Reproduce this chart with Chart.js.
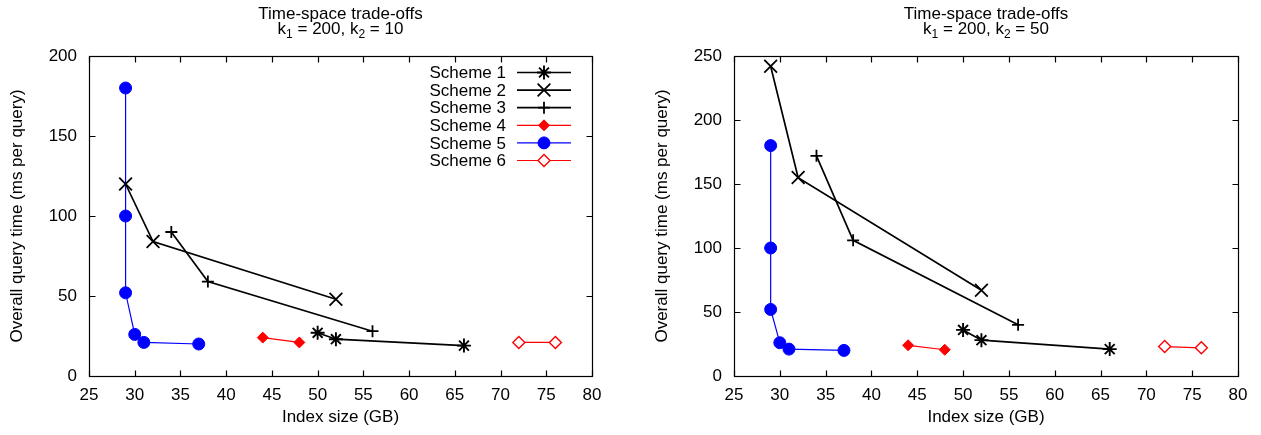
<!DOCTYPE html>
<html><head><meta charset="utf-8">
<script src="https://cdn.jsdelivr.net/npm/chart.js@4.4.1/dist/chart.umd.min.js"></script>
<style>
html,body{margin:0;padding:0;background:#fff;}
body{width:1261px;height:435px;overflow:hidden;position:relative;}
canvas{position:absolute;top:0;}
#c1{left:0;}
#c2{left:645px;}
</style></head><body>
<canvas id="c1" width="630" height="435"></canvas>
<canvas id="c2" width="616" height="435"></canvas>
<script>
// ---- data ----
const seriesNames = ['Scheme 1','Scheme 2','Scheme 3','Scheme 4','Scheme 5','Scheme 6'];
const xTicks = [25,30,35,40,45,50,55,60,65,70,75,80];
const yTicksLeft = [0,50,100,150,200];
const yTicksRight = [0,50,100,150,200,250];
const k1Value = 200;
const k2Values = [10, 50];

const s1x = [50,52,66];
const s2x = [29,32,52];
const s3x = [34,38,56];
const s4x = [44,48];
const s5x = [29,29,29,30,31,37];
const s6x = [72,76];

// k2 = 10
const s1yA = [27,23,19];
const s2yA = [120,84,48];
const s3yA = [90,59,28];
const s4yA = [24,21];
const s5yA = [180,100,52,26,21,20];
const s6yA = [21,21];

// k2 = 50
const s1yB = [36,28,21];
const s2yB = [242,155,67];
const s3yB = [172,106,40];
const s4yB = [24,20.5];
const s5yB = [180,100,52,26,21,20];
const s6yB = [23,22];

// ---- styles ----
const FONT = '"Liberation Sans", Arial, Helvetica, sans-serif';
const FS = 17;
const styles = [
  {color:'#000000', pointStyle:'star', radius:7, bw:1.7, pbw:1.9, fill:'#000000'},
  {color:'#000000', pointStyle:'crossRot', radius:9, bw:1.7, pbw:1.8, fill:'#000000'},
  {color:'#000000', pointStyle:'cross', radius:6, bw:1.7, pbw:1.8, fill:'#000000'},
  {color:'#ff0000', pointStyle:'rectRot', radius:5.5, bw:1.2, pbw:1, fill:'#ff0000'},
  {color:'#0000ff', pointStyle:'circle', radius:6, bw:1.2, pbw:1, fill:'#0000ff'},
  {color:'#ff0000', pointStyle:'rectRot', radius:6, bw:1.2, pbw:1.4, fill:'#ffffff'}
];

function pts(xs, ys){ return xs.map((x,i)=>({x:x, y:ys[i]})); }

function makeDatasets(ys){
  const xs = [s1x,s2x,s3x,s4x,s5x,s6x];
  return xs.map((x,i)=>{
    const s = styles[i];
    return {
      label: seriesNames[i],
      data: pts(x, ys[i]),
      showLine: true,
      borderColor: s.color,
      borderWidth: s.bw,
      backgroundColor: s.fill,
      pointStyle: s.pointStyle,
      pointRadius: s.radius,
      pointHoverRadius: s.radius,
      pointBorderWidth: s.pbw,
      pointBorderColor: s.color,
      pointBackgroundColor: s.fill,
      tension: 0,
      clip: false
    };
  });
}

// border + inward ticks
const frameTicks = {
  id:'frameTicks',
  beforeDatasetsDraw(chart){
    const {ctx, chartArea:a, scales} = chart;
    ctx.save();
    ctx.strokeStyle = '#000';
    ctx.lineWidth = 1.2;
    const L = Math.round(a.left)+0.5, R = Math.round(a.right)+0.5, T = Math.round(a.top)+0.5, B = Math.round(a.bottom)+0.5;
    ctx.strokeRect(L, T, R-L, B-T);
    const len = 6;
    ctx.beginPath();
    scales.x.ticks.forEach(t=>{
      const px = Math.round(scales.x.getPixelForValue(t.value))+0.5;
      ctx.moveTo(px, B); ctx.lineTo(px, B-len);
      ctx.moveTo(px, T); ctx.lineTo(px, T+len);
    });
    scales.y.ticks.forEach(t=>{
      const py = Math.round(scales.y.getPixelForValue(t.value))+0.5;
      ctx.moveTo(L, py); ctx.lineTo(L+len, py);
      ctx.moveTo(R, py); ctx.lineTo(R-len, py);
    });
    ctx.stroke();
    ctx.restore();
  }
};

// two-line title with subscripts
const subTitle = {
  id:'subTitle',
  afterDraw(chart, args, opts){
    const {ctx, chartArea:a} = chart;
    const cx = (a.left + a.right)/2;
    ctx.save();
    ctx.fillStyle = '#000';
    ctx.textBaseline = 'alphabetic';
    ctx.font = FS + 'px ' + FONT;
    ctx.textAlign = 'center';
    ctx.fillText('Time-space trade-offs', cx, 19);
    const big = FS + 'px ' + FONT, small = '12px ' + FONT;
    const parts = [['k',big,0],['1',small,4],[' = ' + opts.k1 + ', k',big,0],['2',small,4],[' = ' + opts.k2,big,0]];
    let total = 0;
    parts.forEach(p=>{ ctx.font = p[1]; total += ctx.measureText(p[0]).width; });
    let x = cx - total/2;
    ctx.textAlign = 'left';
    parts.forEach(p=>{ ctx.font = p[1]; ctx.fillText(p[0], x, 34 + p[2]); x += ctx.measureText(p[0]).width; });
    ctx.restore();
  }
};

// gnuplot-style legend inside top-right
function drawMarker(ctx, s, x, y){
  const opts = {pointStyle:s.pointStyle, radius:s.radius, borderWidth:s.pbw, rotation:0};
  ctx.save();
  ctx.strokeStyle = s.color; ctx.fillStyle = s.fill; ctx.lineWidth = s.pbw;
  if (Chart.helpers && Chart.helpers.drawPoint) {
    Chart.helpers.drawPoint(ctx, opts, x, y);
  }
  ctx.restore();
}
const insideLegend = {
  id:'insideLegend',
  afterDraw(chart, args, opts){
    if (!opts.show) return;
    const {ctx, chartArea:a} = chart;
    ctx.save();
    ctx.font = FS + 'px ' + FONT;
    ctx.textBaseline = 'middle';
    ctx.textAlign = 'right';
    chart.data.datasets.forEach((ds,i)=>{
      const s = styles[i];
      const y = a.top + 16.5 + i*17.6;
      ctx.fillStyle = '#000';
      ctx.fillText(ds.label, a.right - 86, y + 1);
      ctx.strokeStyle = s.color; ctx.lineWidth = s.bw;
      ctx.beginPath(); ctx.moveTo(a.right - 75, y); ctx.lineTo(a.right - 21, y); ctx.stroke();
      drawMarker(ctx, s, a.right - 48, y);
    });
    ctx.restore();
  }
};

function makeChart(id, ys, yTicks, k2, showLegend, padRight){
  return new Chart(document.getElementById(id), {
    type:'scatter',
    data:{ datasets: makeDatasets(ys) },
    options:{
      responsive:false,
      animation:false,
      devicePixelRatio:1,
      layout:{ padding:{ top:56, right:padRight, bottom:0, left:0 } },
      plugins:{
        legend:{display:false},
        tooltip:{enabled:false},
        title:{display:false},
        subTitle:{ k1:k1Value, k2:k2 },
        insideLegend:{ show:showLegend }
      },
      scales:{
        x:{
          type:'linear',
          min: xTicks[0], max: xTicks[xTicks.length-1],
          afterFit(s){ s.height = 59; },
          afterBuildTicks(s){ s.ticks = xTicks.map(v=>({value:v})); },
          grid:{display:false, drawTicks:false},
          border:{display:false},
          ticks:{ color:'#000', font:{family:FONT, size:FS}, padding:9, maxRotation:0, autoSkip:false },
          title:{ display:true, text:'Index size (GB)', color:'#000', font:{family:FONT, size:FS}, padding:{top:0,bottom:7} }
        },
        y:{
          type:'linear',
          min: yTicks[0], max: yTicks[yTicks.length-1],
          afterFit(s){ s.width = 89; },
          afterBuildTicks(s){ s.ticks = yTicks.map(v=>({value:v})); },
          grid:{display:false, drawTicks:false},
          border:{display:false},
          ticks:{ color:'#000', font:{family:FONT, size:FS}, padding:12, autoSkip:false },
          title:{ display:true, text:'Overall query time (ms per query)', color:'#000', font:{family:FONT, size:FS}, padding:{top:7,bottom:0} }
        }
      }
    },
    plugins:[frameTicks, subTitle, insideLegend]
  });
}

makeChart('c1', [s1yA,s2yA,s3yA,s4yA,s5yA,s6yA], yTicksLeft, k2Values[0], true, 38);
makeChart('c2', [s1yB,s2yB,s3yB,s4yB,s5yB,s6yB], yTicksRight, k2Values[1], false, 23);
</script>
</body></html>
